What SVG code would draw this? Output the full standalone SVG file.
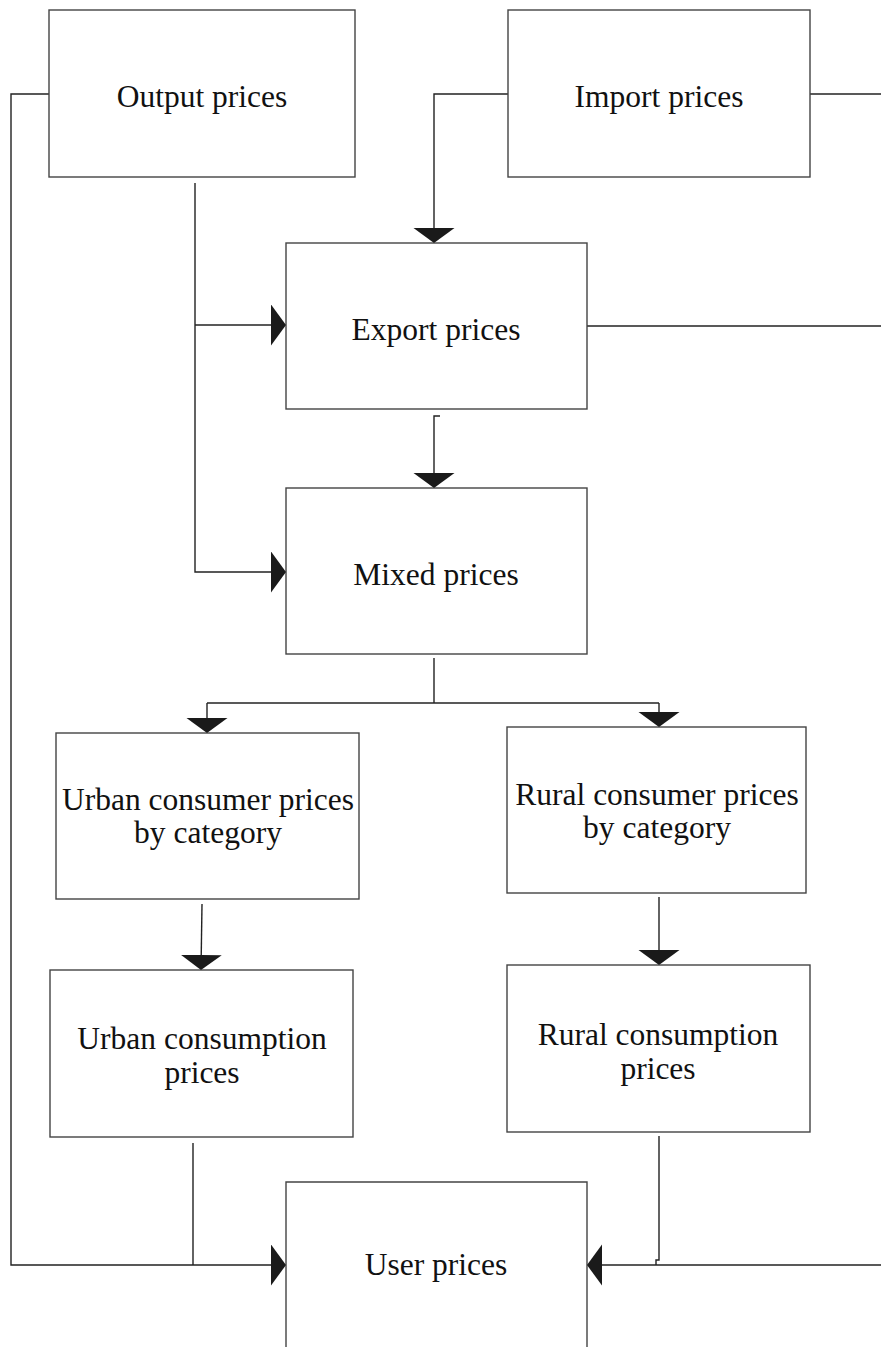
<svg xmlns="http://www.w3.org/2000/svg" width="881" height="1347" viewBox="0 0 881 1347">
<style>
.box{fill:#fff;stroke:#444;stroke-width:1.4}
.ln{fill:none;stroke:#222;stroke-width:1.4}
.t{font-family:"Liberation Serif","Times New Roman",serif;font-size:31.5px;fill:#111;text-anchor:middle}
</style>
<defs>
<marker id="ah" markerUnits="userSpaceOnUse" markerWidth="16" markerHeight="42" refX="15" refY="20.5" orient="auto" viewBox="0 0 16 42">
<path d="M0,0 L15,20.5 L0,41 Z" fill="#1a1a1a"/>
</marker>
</defs>
<rect width="881" height="1347" fill="#fff"/>
<g id="connectors">
<path class="ln" d="M49,94 H11 V1265 H286" marker-end="url(#ah)"/>
<path class="ln" d="M195,183 V572 H286" marker-end="url(#ah)"/>
<path class="ln" d="M195,325 H286" marker-end="url(#ah)"/>
<path class="ln" d="M508,94 H434 V243" marker-end="url(#ah)"/>
<path class="ln" d="M810,94 H881"/>
<path class="ln" d="M587,326 H881"/>
<path class="ln" d="M440,416 H434 V488" marker-end="url(#ah)"/>
<path class="ln" d="M434,658 V703"/>
<path class="ln" d="M207,703 H659"/>
<path class="ln" d="M207,703 V733" marker-end="url(#ah)"/>
<path class="ln" d="M659,703 V727" marker-end="url(#ah)"/>
<path class="ln" d="M202,904 L201,970" marker-end="url(#ah)"/>
<path class="ln" d="M659,897 V965" marker-end="url(#ah)"/>
<path class="ln" d="M193,1143 V1265"/>
<path class="ln" d="M659,1136 V1260 H656 V1265"/>
<path class="ln" d="M881,1265 H587" marker-end="url(#ah)"/>
</g>
<g id="output-prices">
<rect class="box" x="49" y="10" width="306" height="167"/>
<text class="t" x="202" y="107">Output prices</text>
</g>
<g id="import-prices">
<rect class="box" x="508" y="10" width="302" height="167"/>
<text class="t" x="659" y="107">Import prices</text>
</g>
<g id="export-prices">
<rect class="box" x="286" y="243" width="301" height="166"/>
<text class="t" x="436" y="340">Export prices</text>
</g>
<g id="mixed-prices">
<rect class="box" x="286" y="488" width="301" height="166"/>
<text class="t" x="436" y="585">Mixed prices</text>
</g>
<g id="urban-consumer-prices">
<rect class="box" x="56" y="733" width="303" height="166"/>
<text class="t" x="208" y="810">Urban consumer prices</text>
<text class="t" x="208" y="843">by category</text>
</g>
<g id="rural-consumer-prices">
<rect class="box" x="507" y="727" width="299" height="166"/>
<text class="t" x="657" y="805">Rural consumer prices</text>
<text class="t" x="657" y="838">by category</text>
</g>
<g id="urban-consumption-prices">
<rect class="box" x="50" y="970" width="303" height="167"/>
<text class="t" x="202" y="1049">Urban consumption</text>
<text class="t" x="202" y="1083">prices</text>
</g>
<g id="rural-consumption-prices">
<rect class="box" x="507" y="965" width="303" height="167"/>
<text class="t" x="658" y="1045">Rural consumption</text>
<text class="t" x="658" y="1079">prices</text>
</g>
<g id="user-prices">
<path class="box" d="M286,1347 V1182 H587 V1347"/>
<text class="t" x="436" y="1275">User prices</text>
</g>
</svg>
